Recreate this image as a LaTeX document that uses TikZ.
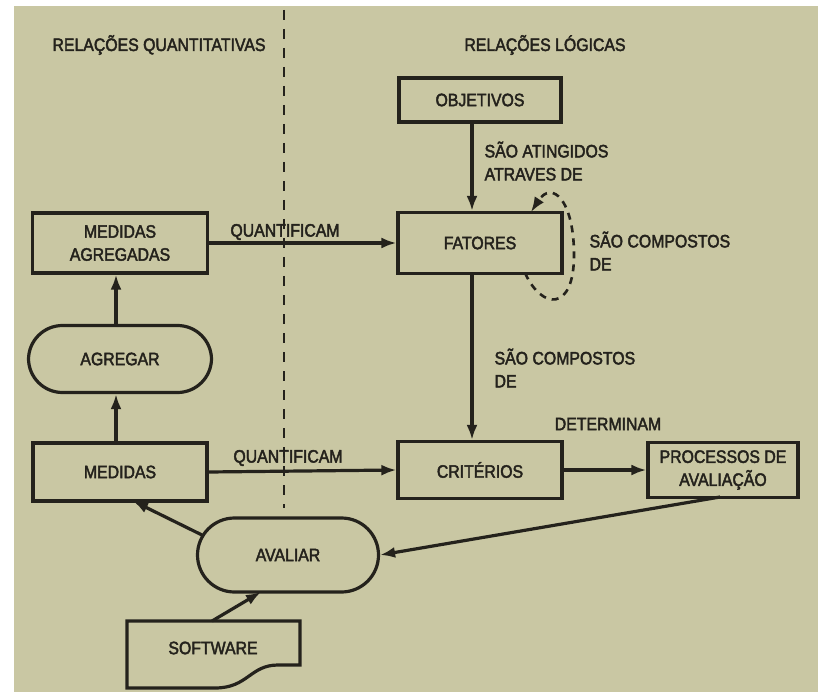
\documentclass[tikz,border=0pt]{standalone}
\usepackage{fontspec}
\setmainfont{Liberation Sans}[FakeStretch=0.88,FakeBold=2.4]
\usetikzlibrary{arrows.meta}
\definecolor{paper}{RGB}{201,199,163}
\definecolor{ink}{RGB}{36,34,28}
\begin{document}
\begin{tikzpicture}[x=1pt,y=-1pt,
  line width=3.2pt,
  every node/.style={text=ink,font=\fontsize{18}{23}\selectfont,inner sep=0pt},
  box/.style={draw=ink,rectangle,align=center},
  pill/.style={draw=ink,rectangle,rounded corners=34pt,align=center},
  lbl/.style={align=left,anchor=north west},
  arr/.style={draw=ink,-{Latex[length=15pt,width=11pt]}},
  link/.style={draw=ink}]
\useasboundingbox (0,0) rectangle (818,692);
\fill[white] (0,0) rectangle (818,692);
\fill[paper] (14,6) rectangle (818,692);

% headers
\node (hq) at (159,45) {RELAÇÕES QUANTITATIVAS};
\node (hl) at (545,45) {RELAÇÕES LÓGICAS};
\draw[ink,line width=2.6pt,dash pattern=on 10pt off 9pt] (284,10) -- (284,508);

% boxes
\node[box,minimum width=162pt,minimum height=44pt] (obj) at (480,100) {OBJETIVOS};
\node[box,minimum width=164pt,minimum height=61pt] (fat) at (480,243) {FATORES};
\node[box,minimum width=175pt,minimum height=60pt] (ma) at (120,243) {MEDIDAS\\AGREGADAS};
\node[pill,minimum width=183pt,minimum height=67pt] (agr) at (120,359) {AGREGAR};
\node[box,minimum width=174pt,minimum height=58pt] (med) at (120,472) {MEDIDAS};
\node[box,minimum width=164pt,minimum height=57pt] (cri) at (480,470) {CRITÉRIOS};
\node[box,minimum width=150pt,minimum height=55pt] (pro) at (723,470) {PROCESSOS DE\\AVALIAÇÃO};
\node[pill,minimum width=181pt,minimum height=74pt,rounded corners=37pt] (ava) at (288,555) {AVALIAR};

% software document shape
\draw[ink] (127,621) -- (300,621) -- (300,665) -- (278,665)
  .. controls (250,665) and (248,688) .. (215,688) -- (127,688) -- cycle;
\node (sw) at (213,648) {SOFTWARE};
\coordinate (swtop) at (212,621);

% connectors
\draw[arr] (obj.south -| 472,0) -- (fat.north -| 472,0);
\node[lbl] (l1) at (483,140) {SÃO ATINGIDOS\\ATRAVES DE};

\draw[arr] (fat.south -| 472,0) -- (cri.north -| 472,0);
\node[lbl] (l2) at (493,347) {SÃO COMPOSTOS\\DE};

\draw[arr] (ma.east) -- (fat.west);
\node (q1) at (285,232) {QUANTIFICAM};

\draw[arr] (med.east) -- (cri.west);
\node (q2) at (288,458) {QUANTIFICAM};

\draw[arr] (cri.east) -- (pro.west);
\node (det) at (608,424) {DETERMINAM};

\draw[arr] (agr.north -| 116,0) -- (ma.south -| 116,0);
\draw[arr] (med.north -| 116,0) -- (agr.south -| 116,0);

\coordinate (prob) at (720,497);
\draw[arr] (prob) -- (ava.east);
\coordinate (avl) at (202,535);
\draw[arr] (avl) -- (133,501);
\draw[arr] (swtop) -- (261,592);

% dashed self loop on FATORES
\coordinate (ls) at (525,273);
\coordinate (le) at (531,212);
\draw[arr,line width=2.6pt,dash pattern=on 7pt off 6pt] (ls)
  .. controls (542,310) and (574,312) .. (574,255)
  .. controls (574,200) and (552,180) .. (le);
\node[lbl] (l3) at (588,230) {SÃO COMPOSTOS\\DE};
\end{tikzpicture}
\end{document}
